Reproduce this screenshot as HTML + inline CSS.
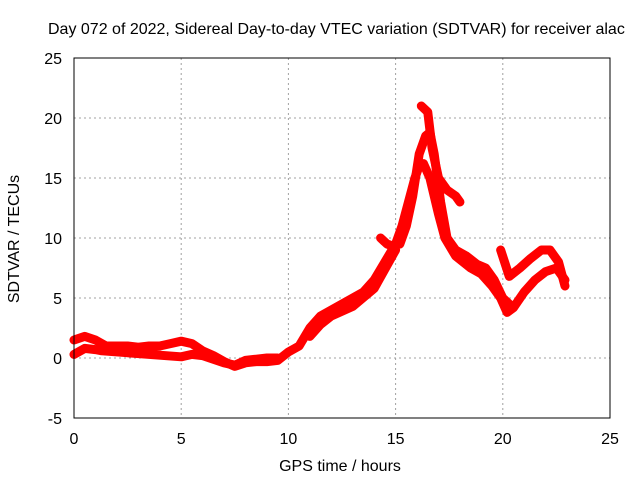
<!DOCTYPE html>
<html><head><meta charset="utf-8"><style>
body{margin:0;background:#fff}
svg text{font-family:"Liberation Sans",sans-serif;font-size:16px;fill:#000}
</style></head><body>
<svg id="c" width="640" height="480">
<text x="48" y="34">Day 072 of 2022, Sidereal Day-to-day VTEC variation (SDTVAR) for receiver alac</text>
<text x="340" y="471" text-anchor="middle">GPS time / hours</text>
<text transform="translate(19,239) rotate(-90)" text-anchor="middle">SDTVAR / TECUs</text>
<g id="grid"></g><g id="marks"></g><g id="axes"></g>
</svg>
<script>
const xTicks=[0,5,10,15,20,25];
const yTicks=[-5,0,5,10,15,20,25];
const track1H=[0,0.5,1,1.5,2,2.5,3,3.5,4,4.5,5,5.5,6,6.5,7,7.5,8,8.5,9,9.5,10,10.5,11,11.5,12,12.5,13,13.5,14,14.5,15,15.3,15.6,15.9,16.1,16.3,16.6,17,17.3,17.8,18.5,19,19.5,19.9,20.2,20.5,21,21.5,22,22.5,22.9];
const track1V=[1.5,1.8,1.5,1.0,1.0,1.0,0.9,1.0,1.0,1.2,1.4,1.2,0.6,0.2,-0.3,-0.7,-0.4,-0.3,-0.3,-0.2,0.5,1.0,2.5,3.5,4.0,4.5,5.0,5.5,6.5,8.0,9.5,11,13,15,16,16.2,15,12,10,8.5,7.5,7,6,5,3.8,4.2,5.5,6.5,7.2,7.5,6.5];
const track2H=[0,0.5,1,1.3,5,5.5,6,6.5,7,7.5,8,8.5,9,9.5];
const track2V=[0.3,0.8,0.7,0.6,0.1,0.3,0.2,-0.1,-0.4,-0.6,-0.2,-0.1,0,0];
const track7H=[11,11.5,12,13,14,15];
const track7V=[1.8,2.8,3.5,4.3,5.8,9];
const track3H=[15.2,15.5,15.8,16.1,16.4,16.6,16.8,17.1,17.4,17.8,18.3,18.8,19.2,19.6,20,20.3];
const track3V=[9.5,11,13.5,17,18.5,18.8,17,13,10,9,8.5,7.8,7.5,6.5,5,4.5];
const track4H=[16.2,16.5,16.7,17,17.4,17.8,18];
const track4V=[21,20.5,17.5,15,14,13.5,13];
const track5H=[19.9,20.3,20.8,21.3,21.8,22.2,22.6,22.9];
const track5V=[9,6.8,7.5,8.3,9,9,8,6];
const track6H=[14.3,14.6,14.9];
const track6V=[10,9.5,9.3];
const X=h=>74+h*536/25, Y=v=>358-v*12;
const ns='http://www.w3.org/2000/svg';
const grid=document.getElementById('grid'),axes=document.getElementById('axes'),marks=document.getElementById('marks');
function mk(tag,attrs,parent){const e=document.createElementNS(ns,tag);for(const k in attrs)e.setAttribute(k,attrs[k]);parent.appendChild(e);return e;}
xTicks.forEach(t=>{
  if(t>0&&t<25){const g=mk('line',{x1:X(t),x2:X(t),y1:58,y2:418,stroke:'#a0a0a0','stroke-dasharray':'2,3'},grid);
  
  }
  const l=mk('text',{x:X(t),y:444,'text-anchor':'middle'},axes);l.textContent=t;
  
  
});
yTicks.forEach(t=>{
  if(t>-5&&t<25){const g=mk('line',{x1:74,x2:610,y1:Y(t),y2:Y(t),stroke:'#a0a0a0','stroke-dasharray':'2,3'},grid);
  
  }
  const l=mk('text',{x:62,y:Y(t)+6,'text-anchor':'end'},axes);l.textContent=t;
  
  
});
const fr=mk('rect',{x:74,y:58,width:536,height:360,fill:'none',stroke:'#000'},axes);


[[track1H,track1V],[track2H,track2V],[track7H,track7V],[track3H,track3V],[track4H,track4V],[track5H,track5V],[track6H,track6V]].forEach(([H,V],i)=>{
  const p=mk('polyline',{points:H.map((h,j)=>X(h)+','+Y(V[j])).join(' '),fill:'none',stroke:'#ff0000','stroke-width':9,'stroke-linejoin':'round','stroke-linecap':'round'},marks);
  
  
});
</script>
</body></html>
